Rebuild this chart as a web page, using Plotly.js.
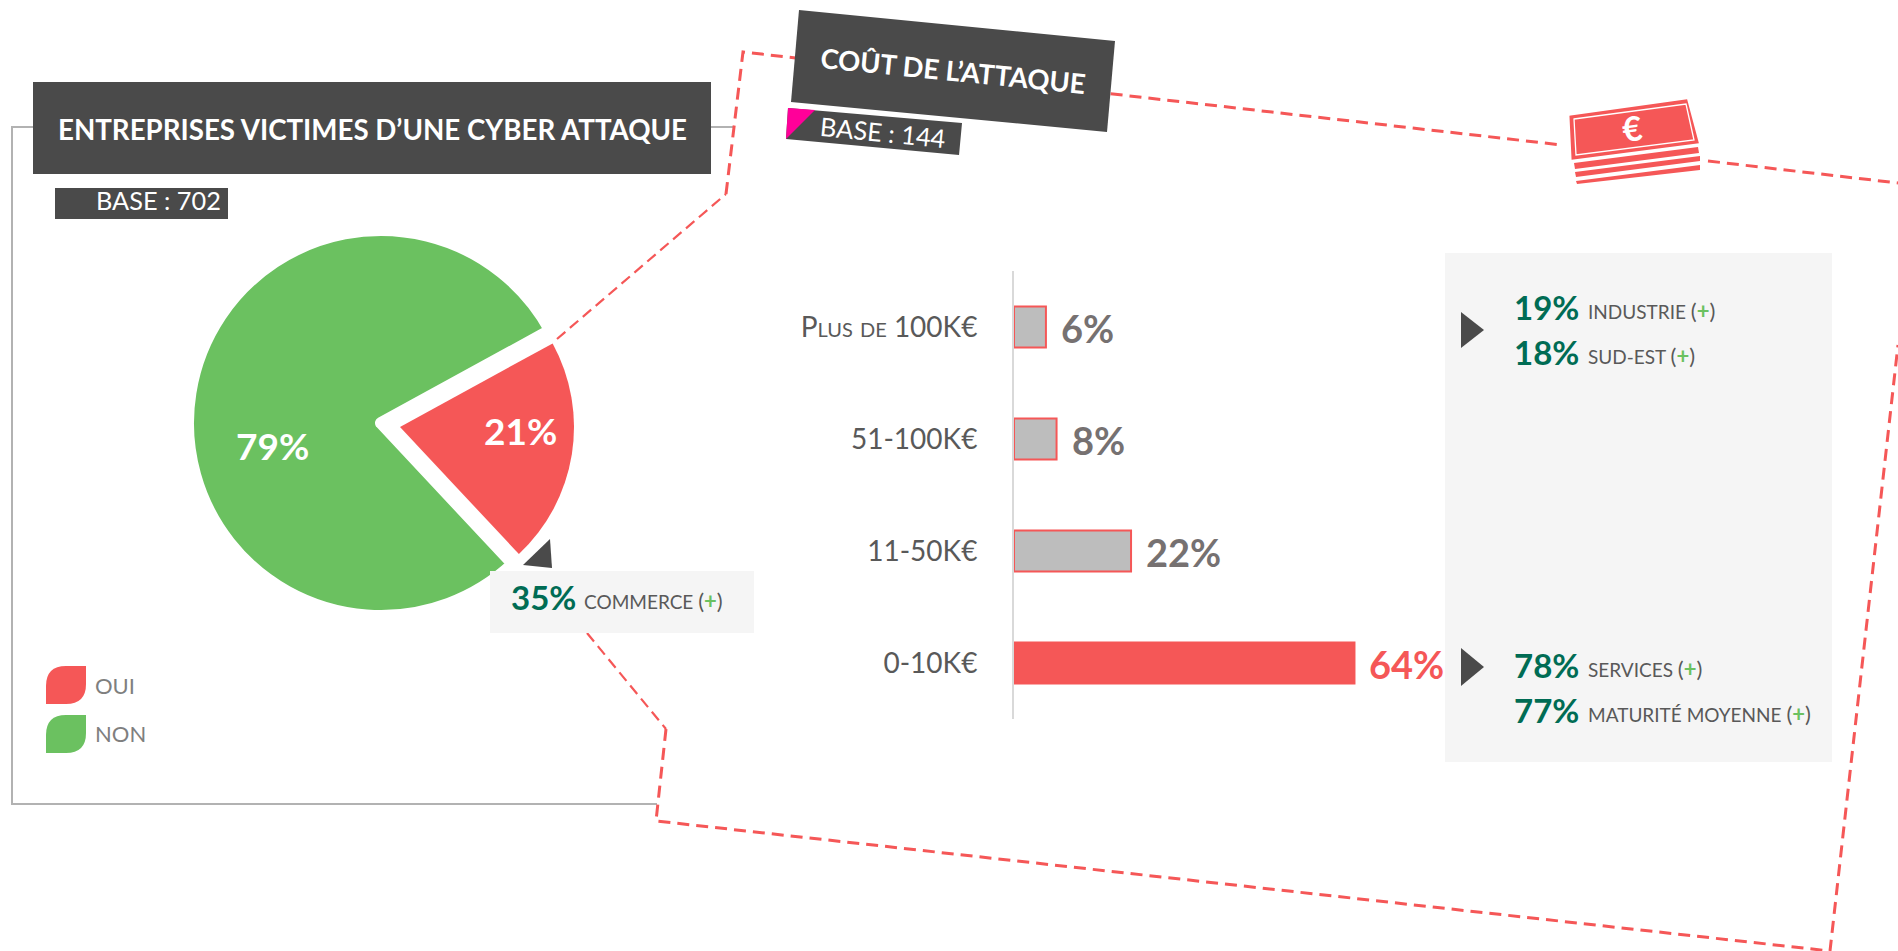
<!DOCTYPE html>
<html><head><meta charset="utf-8">
<script src="https://cdn.plot.ly/plotly-3.0.1.min.js"></script>
<style>
html,body{margin:0;padding:0;background:#fff;overflow:hidden}
#chart{width:1898px;height:951px}
.pielayer path.surface{stroke-linejoin:round}
</style></head><body><div id="chart"></div>
<script>
// ---- data ----
const pieLabels = ['OUI', 'NON'];
const pieValues = [21, 79];
const costCategories = ['0-10K€', '11-50K€', '51-100K€', 'Plus de 100K€'];
const costValues = [64, 22, 8, 6];
const crossUpperValues = [19, 18];
const crossUpperLabels = ['INDUSTRIE', 'SUD-EST'];
const crossLowerValues = [78, 77];
const crossLowerLabels = ['SERVICES', 'MATURITÉ MOYENNE'];
const commerceValue = 35;
const commerceLabel = 'COMMERCE';
const leftTitle = 'ENTREPRISES VICTIMES D’UNE CYBER ATTAQUE';
const rightTitle = 'COÛT DE L’ATTAQUE';
const leftBase = 'BASE : 702';
const rightBase = 'BASE : 144';

// ---- styles ----
const W = 1898, H = 951;
const RED = '#F55757', GREEN = '#6BC160', DARK = '#4A4A4A', TEAL = '#006C54', PANEL = '#F5F5F5';
const FONT = 'Lato, "Open Sans", sans-serif';
const px = x => x / W, py = y => 1 - y / H;
const path = pts => pts.map((p, i) => (i ? 'L' : 'M') + px(p[0]) + ',' + py(p[1])).join(' ');
const closed = pts => path(pts) + ' Z';
const shape = (d, fill, line, layer) => ({type:'path', xref:'paper', yref:'paper', path:d, fillcolor:fill,
  line: line || {width:0}, layer: layer || 'below'});
const rect = (x0,y0,x1,y1,fill,layer) => shape(closed([[x0,y0],[x1,y0],[x1,y1],[x0,y1]]), fill, null, layer);
const poly = (pts,fill,layer) => shape(closed(pts), fill, null, layer);
const NOFILL = 'rgba(0,0,0,0)';
const dashLine = {color:RED, width:3, dash:'12px,7px'};
const thinDash = {color:RED, width:2.2, dash:'11px,6px'};
const greyLine = {color:'#B2B2B2', width:2};
const leaf = (x0,y0,x1,y1,r,fill) => {
  const c = (x,y) => px(x)+','+py(y);
  return shape('M'+c(x0,y1)+' L'+c(x0,y0+r)+' Q'+c(x0,y0)+' '+c(x0+r,y0)+' L'+c(x1,y0)+' L'+c(x1,y1-r)+
    ' Q'+c(x1,y1)+' '+c(x1-r,y1)+' Z', fill);
};
const ann = (text,x,y,o={}) => ({text, x:px(x), y:py(y), xref:'paper', yref:'paper', showarrow:false,
  xanchor:o.xanchor||'left', yanchor:'middle', textangle:o.angle||0, borderpad:0,
  font:{family:FONT, size:o.size||20, color:o.color||'#595959'}});
const plus = '<span style="font-size:22px">(<span style="color:'+GREEN+'"><b>+</b></span>)</span>';
const crossRow = (value,label,baseY,x0,x1) => [
  ann('<b>'+value+'%</b>',x0,baseY-11,{size:33,color:TEAL}),
  ann(label+' '+plus,x1,baseY-8,{size:19,color:'#595959'})
];

// ---- shapes ----
const shapes = [
  // grey frame
  shape(path([[735,127],[12,127],[12,804],[657,804]]), NOFILL, greyLine),
  // dashed zoom polygon
  shape(path([[557,339],[726,194]]), NOFILL, thinDash),
  shape(path([[726,194],[743,52],[1562,145]]), NOFILL, dashLine),
  shape(path([[1708,161],[1898,183]]), NOFILL, dashLine),
  shape(path([[587,633],[666,729]]), NOFILL, thinDash),
  shape(path([[666,729],[656,821],[1830,951],[1898,345]]), NOFILL, dashLine),
  // panels
  rect(1445,253,1832,762,PANEL),
  poly([[1461,312],[1484,330],[1461,348]],DARK),
  poly([[1461,648],[1484,667],[1461,686]],DARK),
  // left title
  rect(33,82,711,174,DARK),
  rect(55,188,228,219,DARK),
  // right title
  poly([[788,108],[962,123],[959,155],[786,139]],DARK),
  poly([[788,108],[815,110],[786,139]],'#FF0099'),
  poly([[799,10],[1115,41],[1107,132],[791,102]],DARK),
  // legend leaves
  leaf(46,666,86,704,20,RED),
  leaf(46,715,86,753,20,GREEN),
  // money icon
  shape(closed([[1571,117],[1686,101],[1697,142],[1573,158]]), RED, {color:RED,width:3}),
  shape(closed([[1574,119],[1686,104],[1694,140],[1576,155]]), NOFILL, {color:'#FFFFFF',width:1.3}),
  poly([[1574,163],[1698,147],[1699,153],[1575,169]],RED),
  poly([[1575,172],[1700,156],[1700,161],[1576,177]],RED),
  poly([[1576,181],[1700,165],[1700,170],[1577,184]],RED),
  // commerce callout above the pie
  rect(490,571,754,633,PANEL,'above'),
  poly([[550,539],[552,568],[523,565]],DARK,'above')
];

// ---- annotations ----
const annotations = [
  ann('<b>'+leftTitle+'</b>',372,129,{size:27.7,color:'#FFFFFF',xanchor:'center'}),
  ann(leftBase,95,200,{size:25.3,color:'#FFFFFF'}),
  ann('<b>'+rightTitle+'</b>',953,71,{size:27.4,color:'#FFFFFF',xanchor:'center',angle:5.6}),
  ann(rightBase,883,132,{size:25.5,color:'#FFFFFF',xanchor:'center',angle:5.6}),
  ann('<b>'+pieValues[0]+'%</b>',520,430,{size:37,color:'#FFFFFF',xanchor:'center'}),
  ann('<b>'+pieValues[1]+'%</b>',272,445,{size:37,color:'#FFFFFF',xanchor:'center'}),
  ann(pieLabels[0],94,685,{size:22,color:'#7F7F7F'}),
  ann(pieLabels[1],94,733,{size:22,color:'#7F7F7F'}),
  ann('<b>€</b>',1632,127,{size:34,color:'#FFFFFF',xanchor:'center',angle:-7.5}),
  ...crossRow(commerceValue,commerceLabel,608,510,583),
  ...crossRow(crossUpperValues[0],crossUpperLabels[0],318,1513,1587),
  ...crossRow(crossUpperValues[1],crossUpperLabels[1],363,1513,1587),
  ...crossRow(crossLowerValues[0],crossLowerLabels[0],676,1513,1587),
  ...crossRow(crossLowerValues[1],crossLowerLabels[1],721,1513,1587),
  ...costValues.map((v,i)=>({text:'<b>'+v+'%</b>', x:v, y:costCategories[i], xref:'x', yref:'y', showarrow:false,
    xanchor:'left', yanchor:'middle', xshift:14, yshift:-1, borderpad:0,
    font:{family:FONT,size:38,color:i===0?RED:'#767171'}}))
];

const pieDomain = (cx,cy,r) => ({x:[px(cx-r),px(cx+r)], y:[py(cy+r),py(cy-r)]});
const rotation = 61.3;
const traces = [
  {type:'pie', values:pieValues, labels:pieLabels, sort:false, direction:'clockwise', rotation,
   domain:pieDomain(381,423,193), textinfo:'none', hoverinfo:'skip', showlegend:false,
   marker:{colors:[NOFILL,GREEN], line:{color:['rgba(0,0,0,0)','#FFFFFF'], width:[0,12]}}},
  {type:'pie', values:pieValues, labels:pieLabels, sort:false, direction:'clockwise', rotation,
   domain:pieDomain(400,427,174), textinfo:'none', hoverinfo:'skip', showlegend:false,
   marker:{colors:[RED,NOFILL], line:{width:0}}},
  {type:'bar', orientation:'h', y:costCategories, x:costValues, width:0.365, cliponaxis:false, hoverinfo:'skip',
   xaxis:'x', yaxis:'y', showlegend:false,
   marker:{color:costValues.map((v,i)=>i===0?RED:'#BDBDBD'), line:{color:RED,width:2}}}
];
const layout = {
  width:W, height:H, margin:{l:0,r:0,t:0,b:0,pad:0}, paper_bgcolor:'#FFFFFF', plot_bgcolor:'rgba(0,0,0,0)',
  showlegend:false, shapes, annotations,
  xaxis:{domain:[px(1014),px(1014+80*5.32)], range:[0,80], visible:false, fixedrange:true},
  yaxis:{domain:[py(719),py(271)], type:'category', categoryorder:'array', categoryarray:costCategories,
    range:[-0.5,3.5], showgrid:false, zeroline:false, showline:true, linecolor:'#D9D9D9', linewidth:2,
    ticks:'', ticklabelstandoff:29, fixedrange:true,
    tickfont:{family:FONT,size:28,color:'#595959',variant:'small-caps'}}
};
Plotly.newPlot('chart',traces,layout,{displayModeBar:false,staticPlot:true});
</script></body></html>
